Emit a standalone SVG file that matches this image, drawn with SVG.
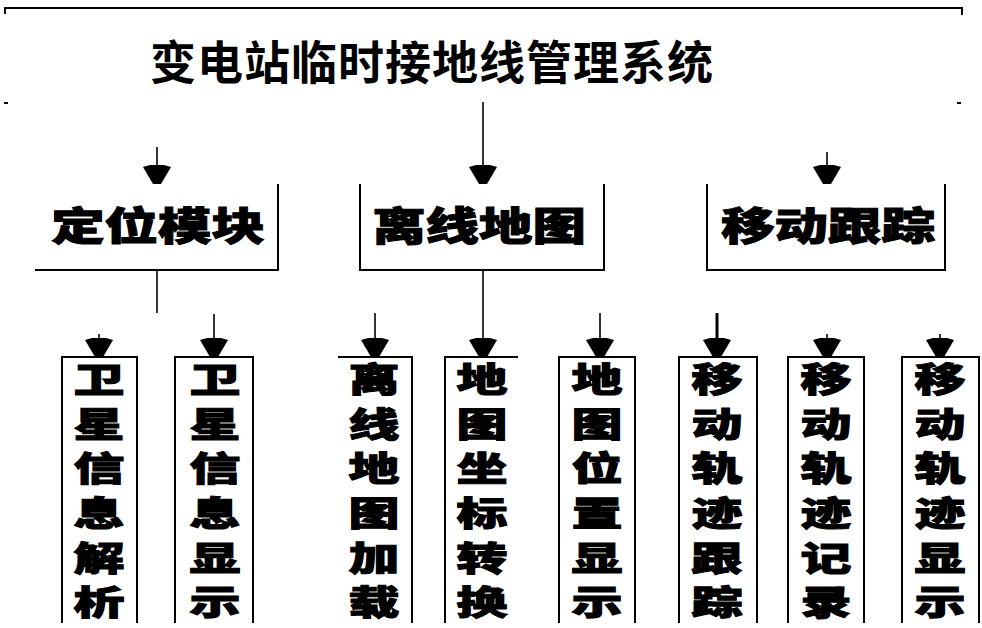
<svg xmlns="http://www.w3.org/2000/svg" width="982" height="628" viewBox="0 0 982 628">
  <style>
    .title { font-family: "Noto Sans CJK SC", "Noto Sans CJK TC", sans-serif; font-weight: 700; font-size: 46px; letter-spacing: 1px; fill: #000; }
    .lbl { font-family: "Noto Sans CJK SC", "Noto Sans CJK TC", sans-serif; font-weight: 900; fill: #000; stroke: #000; stroke-width: 1px; text-anchor: middle; }
    .l2 { font-size: 39px; }
    .l3 { font-size: 34px; }
    .box { fill: none; stroke: #000; stroke-width: 2; }
    .frame { fill: none; stroke: #000; stroke-width: 2; }
    .conn { fill: none; stroke: #000; stroke-width: 1.6; }
    .arr { marker-end: url(#ah); }
  </style>
  <defs>
    <marker id="ah" viewBox="-20 -15 21 30" refX="0" refY="0" markerWidth="21" markerHeight="30" markerUnits="userSpaceOnUse" orient="auto">
      <path d="M0,-4 L0,4 L-17,14 L-19,7 L-19,-7 L-17,-14 Z" fill="#000"/>
    </marker>
  </defs>

  <g id="title">
    <path class="frame" d="M5,14 V8 H962 V15"/>
    <path class="frame" d="M4,103 H8 M957,103 H961"/>
    <text class="title" x="150" y="79">变电站临时接地线管理系统</text>
  </g>

  <g id="connectors">
    <path class="conn arr" d="M157,147 V184"/>
    <path class="conn arr" d="M483,102 V184"/>
    <path class="conn arr" d="M827,152 V184"/>
    <path class="conn" d="M157,270 V313"/>
    <path class="conn arr" d="M99,334 V357"/>
    <path class="conn arr" d="M214,314 V357"/>
    <path class="conn arr" d="M375,313 V357"/>
    <path class="conn arr" d="M483,270 V357"/>
    <path class="conn arr" d="M600,313 V357"/>
    <path class="conn arr" d="M717,313 V357" style="stroke-width:3"/>
    <path class="conn arr" d="M827,334 V357"/>
    <path class="conn arr" d="M940,334 V357"/>
  </g>

  <g id="node-dingwei">
    <path class="box" d="M35,270 H278 V184"/>
    <text class="lbl l2" transform="translate(158,240) scale(1.37,1)" x="0" y="0">定位模块</text>
  </g>
  <g id="node-lixian">
    <path class="box" d="M360,184 V270 H604 V184"/>
    <text class="lbl l2" transform="translate(479,240) scale(1.37,1)" x="0" y="0">离线地图</text>
  </g>
  <g id="node-yidong">
    <path class="box" d="M707,184 V270 H945 V184"/>
    <text class="lbl l2" transform="translate(828,240) scale(1.37,1)" x="0" y="0">移动跟踪</text>
  </g>

  <g id="node-b1">
    <path class="box" d="M62,623 V357 H137 V623"/>
    <text class="lbl l3" transform="translate(99,0) scale(1.5,1)"><tspan x="0" y="392">卫</tspan><tspan x="0" y="437">星</tspan><tspan x="0" y="481">信</tspan><tspan x="0" y="526">息</tspan><tspan x="0" y="571">解</tspan><tspan x="0" y="615">析</tspan></text>
  </g>
  <g id="node-b2">
    <path class="box" d="M175,623 V357 H253 V623"/>
    <text class="lbl l3" transform="translate(215,0) scale(1.5,1)"><tspan x="0" y="392">卫</tspan><tspan x="0" y="437">星</tspan><tspan x="0" y="481">信</tspan><tspan x="0" y="526">息</tspan><tspan x="0" y="571">显</tspan><tspan x="0" y="615">示</tspan></text>
  </g>
  <g id="node-b3">
    <path class="box" d="M338,357 H412 V623"/>
    <text class="lbl l3" transform="translate(374,0) scale(1.5,1)"><tspan x="0" y="392">离</tspan><tspan x="0" y="437">线</tspan><tspan x="0" y="481">地</tspan><tspan x="0" y="526">图</tspan><tspan x="0" y="571">加</tspan><tspan x="0" y="615">载</tspan></text>
  </g>
  <g id="node-b4">
    <path class="box" d="M445,623 V357 H518"/>
    <text class="lbl l3" transform="translate(482,0) scale(1.5,1)"><tspan x="0" y="392">地</tspan><tspan x="0" y="437">图</tspan><tspan x="0" y="481">坐</tspan><tspan x="0" y="526">标</tspan><tspan x="0" y="571">转</tspan><tspan x="0" y="615">换</tspan></text>
  </g>
  <g id="node-b5">
    <path class="box" d="M559,623 V357 H635 V623"/>
    <text class="lbl l3" transform="translate(597,0) scale(1.5,1)"><tspan x="0" y="392">地</tspan><tspan x="0" y="437">图</tspan><tspan x="0" y="481">位</tspan><tspan x="0" y="526">置</tspan><tspan x="0" y="571">显</tspan><tspan x="0" y="615">示</tspan></text>
  </g>
  <g id="node-b6">
    <path class="box" d="M679,623 V357 H757 V623"/>
    <text class="lbl l3" transform="translate(717,0) scale(1.5,1)"><tspan x="0" y="392">移</tspan><tspan x="0" y="437">动</tspan><tspan x="0" y="481">轨</tspan><tspan x="0" y="526">迹</tspan><tspan x="0" y="571">跟</tspan><tspan x="0" y="615">踪</tspan></text>
  </g>
  <g id="node-b7">
    <path class="box" d="M788,623 V357 H864 V623"/>
    <text class="lbl l3" transform="translate(826,0) scale(1.5,1)"><tspan x="0" y="392">移</tspan><tspan x="0" y="437">动</tspan><tspan x="0" y="481">轨</tspan><tspan x="0" y="526">迹</tspan><tspan x="0" y="571">记</tspan><tspan x="0" y="615">录</tspan></text>
  </g>
  <g id="node-b8">
    <path class="box" d="M902,623 V357 H979 V623"/>
    <text class="lbl l3" transform="translate(940,0) scale(1.5,1)"><tspan x="0" y="392">移</tspan><tspan x="0" y="437">动</tspan><tspan x="0" y="481">轨</tspan><tspan x="0" y="526">迹</tspan><tspan x="0" y="571">显</tspan><tspan x="0" y="615">示</tspan></text>
  </g>
</svg>
